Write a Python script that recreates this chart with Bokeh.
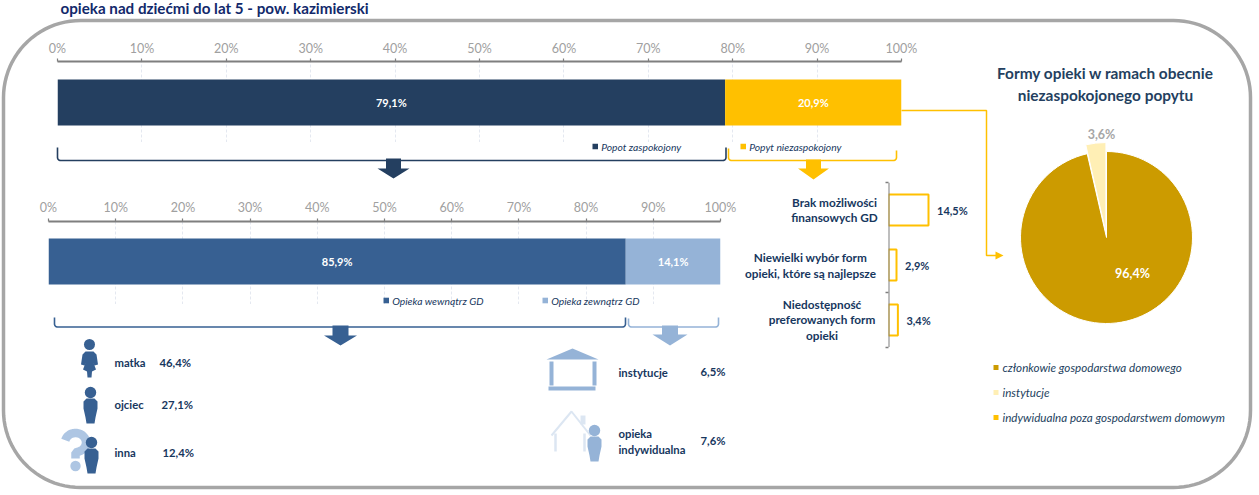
import numpy as np
from bokeh.core.properties import value
from bokeh.embed import file_html
from bokeh.models import FactorRange, FixedTicker, PrintfTickFormatter, Range1d, Span
from bokeh.plotting import figure
from bokeh.resources import INLINE

# ---------- data ----------
title_text = "opieka nad dziećmi do lat 5 - pow. kazimierski"
axis_ticks = [0, 10, 20, 30, 40, 50, 60, 70, 80, 90, 100]
demand_names = ["Popot zaspokojony", "Popyt niezaspokojony"]
demand_values = [79.1, 20.9]
demand_labels = ["79,1%", "20,9%"]
care_names = ["Opieka wewnątrz GD", "Opieka zewnątrz GD"]
care_values = [85.9, 14.1]
care_labels = ["85,9%", "14,1%"]
reason_values = [14.5, 2.9, 3.4]
reason_labels = ["14,5%", "2,9%", "3,4%"]
reason_keys = ["Brak", "Niewielki", "Niedostepnosc"]
reason_lines = [
    ["Brak możliwości", "finansowych GD"],
    ["Niewielki wybór form", "opieki, które są najlepsze"],
    ["Niedostępność", "preferowanych form", "opieki"],
]
inside_names = ["matka", "ojciec", "inna"]
inside_labels = ["46,4%", "27,1%", "12,4%"]
outside_labels = ["6,5%", "7,6%"]
pie_title = ["Formy opieki w ramach obecnie", "niezaspokojonego popytu"]
pie_names = ["członkowie gospodarstwa domowego", "instytucje", "indywidualna poza gospodarstwem domowym"]
pie_values = [96.4, 3.6, 0.0]
pie_labels = ["96,4%", "3,6%"]

NAVY = "#243F60"
BLUE = "#376092"
LIGHT = "#95B3D7"
PALE = "#DCE6F2"
YELLOW = "#FFC000"
TEXT = "#17375E"
GOLD = "#CC9B00"
CREAM = "#FFEFB5"
FONT = "Lato"


def frame(fig):
    fig.background_fill_color = None
    fig.border_fill_color = None
    fig.outline_line_color = None
    return fig


# ---------- overlay: border, connectors, icons, texts ----------
bg = frame(figure(width=1259, height=495, x_range=Range1d(0, 1259), y_range=Range1d(495, 0),
                  x_axis_type=None, y_axis_type=None, toolbar_location=None,
                  output_backend="svg", min_border=0))
bg.grid.visible = False
bg.styles = {"position": "absolute", "left": "0px", "top": "0px"}


def txt(x, y, s, size=11.3, color=TEXT, bold=True, italic=False, align="left"):
    style = "bold italic" if bold and italic else "bold" if bold else "italic" if italic else "normal"
    bg.text(x=[x], y=[y], text=[s], text_font=value(FONT), text_font_size=f"{size}px",
            text_font_style=style, text_color=color, text_align=align, text_baseline="middle")


def rounded(l, t, r, b, rad):
    a = np.linspace(0, np.pi / 2, 24)
    xs = np.r_[l + rad - rad * np.cos(a), r - rad + rad * np.sin(a),
               r - rad + rad * np.cos(a), l + rad - rad * np.sin(a), l]
    ys = np.r_[t + rad - rad * np.sin(a), t + rad - rad * np.cos(a),
               b - rad + rad * np.sin(a), b - rad + rad * np.cos(a), t + rad]
    return xs, ys


bx, by = rounded(3, 20, 1250, 487, 77)
bg.line(bx, by, line_color="#A6A6A6", line_width=3.5)


def brace(x0, x1, ytop0, ytop1, ybot, color):
    a = np.linspace(0, np.pi / 2, 6)
    r = 3
    xs = np.r_[x0, x0 + r - r * np.cos(a), x1 - r + r * np.sin(a), x1]
    ys = np.r_[ytop0, ybot - r + r * np.sin(a), ybot - r + r * np.cos(a), ytop1]
    bg.line(xs, ys, line_color=color, line_width=1.6)


def down_arrow(cx, shaft, head, y0, y1, y2, color):
    bg.patch([cx - shaft, cx + shaft, cx + shaft, cx + head, cx, cx - head, cx - shaft],
             [y0, y0, y1, y1, y2, y1, y1], fill_color=color, line_color=None)


brace(57, 725.5, 147, 147, 160, NAVY)
brace(728, 896, 148, 150, 160, YELLOW)
down_arrow(393, 7.5, 16, 158, 168, 178, NAVY)
down_arrow(813, 7.5, 15.5, 159, 168, 179, YELLOW)
brace(54, 625, 317, 317, 326.5, BLUE)
brace(628, 718, 318, 317, 326.5, LIGHT)
down_arrow(340, 8, 16.5, 325, 335, 345, BLUE)
down_arrow(669.5, 8, 17.5, 325, 334, 345, LIGHT)

# connector to the pie
bg.line([901, 986, 986, 996], [110, 110, 255, 255], line_color=YELLOW, line_width=1.5)
bg.patch([995, 1003, 995], [251, 255, 259], fill_color=YELLOW, line_color=None)

# legends
for xs, ytxt, names, cols in [((592, 740), 146, demand_names, (NAVY, YELLOW)),
                              ((383, 542), 300, care_names, (BLUE, LIGHT))]:
    for x, n, c in zip(xs, names, cols):
        bg.quad(left=[x], right=[x + 5.5], top=[ytxt - 2.8], bottom=[ytxt + 2.8], fill_color=c, line_color=None)
        txt(x + 8.7, ytxt, n, size=10.3, color=TEXT, bold=False, italic=True)


# icons
def man(cx, top, color):
    bg.circle(x=[cx], y=[top - 5], radius=5.7, fill_color=color, line_color=None)
    bg.patch([cx - 4, cx + 4, cx + 7, cx + 7, cx + 5, cx + 4, cx - 4, cx - 5, cx - 7, cx - 7],
             [top + 1, top + 1, top + 4, top + 11, top + 20, top + 26, top + 26, top + 20, top + 11, top + 4],
             fill_color=color, line_color=None)


bg.circle(x=[89], y=[344], radius=5.5, fill_color=BLUE, line_color=None)
bg.patch([85, 93, 96, 97.5, 94, 92, 95.5, 91.5, 91, 87, 86.5, 82.5, 86, 84, 80.5, 82],
         [351, 351, 354, 364, 365, 360, 369, 371, 377, 377, 371, 369, 360, 365, 364, 354],
         fill_color=BLUE, line_color=None)
man(90, 397, BLUE)
t = np.linspace(-2.9, 1.2, 30)
bg.line(np.r_[75 + 10.5 * np.cos(t), 75, 75], np.r_[442 + 9.5 * np.sin(t), 452, 458],
        line_color="#AEC6E3", line_width=8.5)
bg.circle(x=[75], y=[465.5], radius=5.2, fill_color="#AEC6E3", line_color=None)
man(91, 447, BLUE)

bg.patch([572, 598, 546], [348, 359, 359], fill_color=LIGHT, line_color=None)
bg.quad(left=[549, 592, 548], right=[553, 596, 595], top=[361, 361, 386], bottom=[385, 385, 390],
        fill_color=LIGHT, line_color=None)
bg.quad(left=[580], right=[585], top=[415], bottom=[424], fill_color=PALE, line_color=None)
bg.line([551, 571, 590], [435, 411, 435], line_color=PALE, line_width=2)
bg.segment(x0=[555, 584], y0=[433, 433], x1=[555, 584], y1=[451, 451], line_color=PALE, line_width=2.5)
man(594, 435, LIGHT)

# icon texts
for name, y, lab, lx in zip(inside_names, [362, 404, 452], inside_labels, [159, 161, 162]):
    txt(114, y, name)
    txt(lx, y, lab)
txt(618, 372, "instytucje")
txt(700, 371, outside_labels[0])
txt(618, 433, "opieka")
txt(618, 449, "indywidualna")
txt(700, 440, outside_labels[1])

# reasons: category texts and axis ticks
for lines, cx, ys in zip(reason_lines, [834, 810, 821.5], [[202, 217], [257, 273], [304, 319, 335]]):
    for s, y in zip(lines, ys):
        txt(cx, y, s, size=11.8, align="center")
bg.segment(x0=[885, 885, 885], y0=[182, 292, 347], x1=[888, 888, 888], y1=[182, 292, 347],
           line_color="#7F7F7F", line_width=1.5)

# titles and pie legend
txt(60, 7, title_text, size=15.2, color="#12296B")
txt(1105, 72, pie_title[0], size=15.4, color=NAVY, align="center")
txt(1105, 94, pie_title[1], size=15.4, color=NAVY, align="center")
for name, y, c in zip(pie_names, [367, 392, 417], [GOLD, CREAM, YELLOW]):
    bg.quad(left=[993], right=[998], top=[y - 2.5], bottom=[y + 2.5], fill_color=c, line_color=None)
    txt(1002, y, name, size=11.65, color=NAVY, bold=False, italic=True)


# ---------- stacked 100% bars, each with its own axis ----------
def bar_chart(left, right, axis_y, bar_top, bar_bottom, grid_bottom, vals, labs, colors, standoff):
    pad = 30
    unit = bar_bottom - bar_top
    mid = (bar_top + bar_bottom) / 2
    fig = frame(figure(width=right - left + 2 * pad, height=pad + grid_bottom - axis_y,
                       x_range=Range1d(0, 100),
                       y_range=Range1d((mid - grid_bottom) / unit, (mid - axis_y) / unit),
                       x_axis_location="above", y_axis_type=None, toolbar_location=None,
                       output_backend="svg", min_border_left=pad, min_border_right=pad,
                       min_border_top=pad, min_border_bottom=0))
    fig.styles = {"position": "absolute", "left": f"{left - pad}px", "top": f"{axis_y - pad}px"}
    ax = fig.xaxis[0]
    ax.ticker = FixedTicker(ticks=axis_ticks)
    ax.formatter = PrintfTickFormatter(format="%d%%")
    ax.major_tick_in = 0
    ax.major_tick_out = 3
    ax.minor_tick_in = 0
    ax.minor_tick_out = 0
    ax.axis_line_color = "#7F7F7F"
    ax.axis_line_width = 1.8
    ax.major_tick_line_color = "#7F7F7F"
    ax.major_tick_line_width = 1.2
    ax.major_label_text_color = "#A0A0A0"
    ax.major_label_text_font = FONT
    ax.major_label_text_font_size = "12.5px"
    ax.major_label_standoff = standoff
    fig.ygrid.visible = False
    fig.xgrid.ticker = FixedTicker(ticks=axis_ticks)
    fig.xgrid.grid_line_color = "#E4E8F0"
    fig.xgrid.grid_line_dash = "3 2"
    ends = np.cumsum(vals)
    starts = ends - np.array(vals)
    fig.hbar(y=[0, 0], left=starts, right=ends, height=1, fill_color=colors, line_color=None)
    fig.text(x=(starts + ends) / 2, y=[0, 0], text=labs, text_color="white", text_font=value(FONT),
             text_font_size="11px", text_font_style="bold", text_align="center", text_baseline="middle")
    return fig


f1 = bar_chart(57, 901, 61, 79, 125, 142, demand_values, demand_labels, [NAVY, YELLOW], 3)
f2 = bar_chart(48, 720, 221, 238, 284, 304, care_values, care_labels, [BLUE, LIGHT], 4)

# ---------- reasons: outlined bars ----------
f3 = frame(figure(width=100, height=165, x_range=Range1d(0, 96 * 14.5 / 40),
                  y_range=FactorRange(factors=reason_keys[::-1]),
                  x_axis_type=None, y_axis_type=None, toolbar_location=None, output_backend="svg",
                  min_border=0, min_border_left=4))
f3.y_range.range_padding = 0
f3.y_range.factor_padding = 0
f3.grid.visible = False
f3.styles = {"position": "absolute", "left": "884px", "top": "182px"}
f3.hbar(y=reason_keys, left=0, right=reason_values, height=0.565, fill_color=None,
        line_color=YELLOW, line_width=2)
f3.add_layout(Span(location=0, dimension="height", line_color="#7F7F7F", line_width=2))
f3.text(x=reason_values, y=reason_keys, text=reason_labels, x_offset=8.5, text_color=TEXT,
        text_font=value(FONT), text_font_size="11px", text_font_style="bold", text_baseline="middle")

# ---------- pie ----------
f4 = frame(figure(width=240, height=240, x_range=Range1d(-120, 120), y_range=Range1d(-120, 120),
                  x_axis_type=None, y_axis_type=None, toolbar_location=None,
                  output_backend="svg", min_border=0))
f4.grid.visible = False
f4.styles = {"position": "absolute", "left": "986px", "top": "117px"}
shares = np.array(pie_values) / sum(pie_values)
ang_end = np.pi / 2 - 2 * np.pi * np.cumsum(shares)
ang_start = ang_end + 2 * np.pi * shares
bis = (ang_start[1] + ang_end[1]) / 2
f4.wedge(x=0, y=0, radius=86, start_angle=ang_start[0], end_angle=ang_end[0], direction="clock",
         fill_color=GOLD, line_color="white", line_width=1)
f4.wedge(x=5 * np.cos(bis), y=5 * np.sin(bis), radius=90, start_angle=ang_start[1], end_angle=ang_end[1],
         direction="clock", fill_color=CREAM, line_color="white", line_width=1)
f4.text(x=[26], y=[-36], text=[pie_labels[0]], text_color="white", text_font=value(FONT),
        text_font_size="12.5px", text_font_style="bold", text_align="center", text_baseline="middle")
f4.text(x=[-5], y=[103], text=[pie_labels[1]], text_color="#A6A6A6", text_font=value(FONT),
        text_font_size="12.5px", text_font_style="bold", text_align="center", text_baseline="middle")

open("out.html", "w").write(file_html([f1, f2, f3, f4, bg], INLINE))
